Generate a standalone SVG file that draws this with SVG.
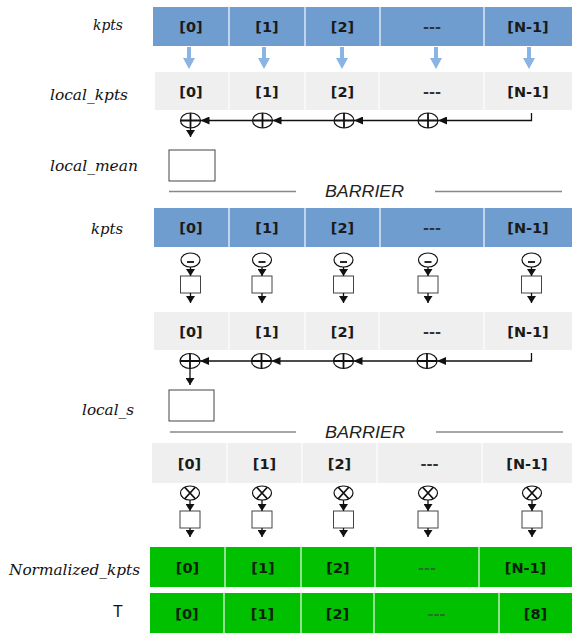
<svg xmlns="http://www.w3.org/2000/svg" width="572" height="633" viewBox="0 0 572 633">
<style>
.lbl{font-family:"DejaVu Serif","Liberation Serif",serif;font-style:italic;font-size:15.5px;fill:#111}
.cell{font-family:"DejaVu Sans","Liberation Sans",sans-serif;font-weight:bold;font-size:14.5px;fill:#1a1a1a;text-anchor:middle}
.gcell{fill:#0a200a}
.dash{fill:#333}
.gdash{fill:#2a6e2a}
.blue{fill:#709dcf}
.grey{fill:#efefef}
.green{fill:#00c000}
.sep{stroke:#ffffff;stroke-width:1.5;stroke-opacity:0.75}
.barrier{font-family:"Liberation Sans",Arial,sans-serif;font-style:italic;font-size:16px;fill:#222;text-anchor:middle}
.bline{stroke:#888;stroke-width:1.3}
.op{fill:#fff;stroke:#111;stroke-width:1.2}
.sym{stroke:#111;stroke-width:1.8;fill:none}
.box{fill:#fff;stroke:#444;stroke-width:1}
.conn{stroke:#111;stroke-width:1.3;fill:none}
.barr{fill:#8ab4e4}
</style>
<defs>
<marker id="ah" markerUnits="userSpaceOnUse" markerWidth="9" markerHeight="8" refX="9" refY="4" orient="auto">
<path d="M0,0 L9,4 L0,8 Z" fill="#111"/>
</marker>
<marker id="ahs" markerUnits="userSpaceOnUse" markerWidth="7" markerHeight="9" refX="7" refY="4.5" orient="auto">
<path d="M0,0 L7,4.5 L0,9 Z" fill="#111"/>
</marker>
<path id="barrow" d="M-2,0 H2 V11 H6 L0,22 L-6,11 H-2 Z"/>
</defs>

<!-- left labels -->
<g id="labels">
<text class="lbl" x="93" y="30" textLength="30" lengthAdjust="spacingAndGlyphs">kpts</text>
<text class="lbl" x="50" y="100" textLength="78" lengthAdjust="spacingAndGlyphs">local_kpts</text>
<text class="lbl" x="50" y="171" textLength="88" lengthAdjust="spacingAndGlyphs">local_mean</text>
<text class="lbl" x="91" y="234" textLength="32" lengthAdjust="spacingAndGlyphs">kpts</text>
<text class="lbl" x="82" y="415" textLength="52" lengthAdjust="spacingAndGlyphs">local_s</text>
<text class="lbl" x="9" y="575" textLength="131" lengthAdjust="spacingAndGlyphs">Normalized_kpts</text>
<text x="118" y="617" font-family="Liberation Sans,Arial,sans-serif" font-size="16" fill="#111" text-anchor="middle">T</text>
</g>

<!-- row 1: kpts -->
<g id="row-kpts-1">
<rect class="blue" x="153" y="7" width="419" height="39"/>
<line class="sep" x1="229" y1="7" x2="229" y2="46"/>
<line class="sep" x1="305" y1="7" x2="305" y2="46"/>
<line class="sep" x1="380" y1="7" x2="380" y2="46"/>
<line class="sep" x1="484" y1="7" x2="484" y2="46"/>
<text class="cell" x="191" y="32">[0]</text>
<text class="cell" x="267" y="32">[1]</text>
<text class="cell" x="342.5" y="32">[2]</text>
<text class="cell dash" x="432" y="32">---</text>
<text class="cell" x="528" y="32">[N-1]</text>
</g>

<!-- row 2: local_kpts -->
<g id="row-local-kpts-1">
<rect class="grey" x="155" y="72" width="417" height="38"/>
<line class="sep" x1="229" y1="72" x2="229" y2="110"/>
<line class="sep" x1="305" y1="72" x2="305" y2="110"/>
<line class="sep" x1="379" y1="72" x2="379" y2="110"/>
<line class="sep" x1="484" y1="72" x2="484" y2="110"/>
<text class="cell" x="191" y="96.5">[0]</text>
<text class="cell" x="267" y="96.5">[1]</text>
<text class="cell" x="342.5" y="96.5">[2]</text>
<text class="cell dash" x="432" y="96.5">---</text>
<text class="cell" x="528" y="96.5">[N-1]</text>
</g>

<!-- sum operators 1 -->
<g id="sum1-0"><ellipse class="op" cx="190.5" cy="120.5" rx="10" ry="7.5"/><path class="sym" d="M180.5,120.5 H200.5 M190.5,113 V128"/></g>
<g id="sum1-1"><ellipse class="op" cx="262.5" cy="120.5" rx="10" ry="7.5"/><path class="sym" d="M252.5,120.5 H272.5 M262.5,113 V128"/></g>
<g id="sum1-2"><ellipse class="op" cx="344" cy="120.5" rx="10" ry="7.5"/><path class="sym" d="M334,120.5 H354 M344,113 V128"/></g>
<g id="sum1-3"><ellipse class="op" cx="428" cy="120.5" rx="10" ry="7.5"/><path class="sym" d="M418,120.5 H438 M428,113 V128"/></g>

<g id="local-mean"><rect class="box" x="169" y="150" width="46" height="31"/></g>

<g id="barrier-1">
<line class="bline" x1="169" y1="191.5" x2="296" y2="191.5"/>
<line class="bline" x1="435" y1="191.5" x2="562" y2="191.5"/>
<text class="barrier" x="364.5" y="197" textLength="79" lengthAdjust="spacingAndGlyphs">BARRIER</text>
</g>

<!-- row 3: kpts -->
<g id="row-kpts-2">
<rect class="blue" x="154" y="208" width="418" height="39"/>
<line class="sep" x1="229" y1="208" x2="229" y2="247"/>
<line class="sep" x1="305" y1="208" x2="305" y2="247"/>
<line class="sep" x1="380" y1="208" x2="380" y2="247"/>
<line class="sep" x1="484" y1="208" x2="484" y2="247"/>
<text class="cell" x="191" y="233">[0]</text>
<text class="cell" x="267" y="233">[1]</text>
<text class="cell" x="342.5" y="233">[2]</text>
<text class="cell dash" x="432" y="233">---</text>
<text class="cell" x="528" y="233">[N-1]</text>
</g>

<!-- minus operators -->
<g id="sub-0"><ellipse class="op" cx="190.5" cy="260" rx="9.5" ry="7"/><path class="sym" d="M187,262 H194"/></g>
<g id="sub-1"><ellipse class="op" cx="262" cy="260" rx="9.5" ry="7"/><path class="sym" d="M258.5,262 H265.5"/></g>
<g id="sub-2"><ellipse class="op" cx="343.5" cy="260" rx="9.5" ry="7"/><path class="sym" d="M340,262 H347"/></g>
<g id="sub-3"><ellipse class="op" cx="428" cy="260" rx="9.5" ry="7"/><path class="sym" d="M424.5,262 H431.5"/></g>
<g id="sub-4"><ellipse class="op" cx="531.5" cy="260" rx="9.5" ry="7"/><path class="sym" d="M528,262 H535"/></g>

<g id="subbox-0"><rect class="box" x="180.5" y="276" width="20" height="17"/></g>
<g id="subbox-1"><rect class="box" x="252" y="276" width="20" height="17"/></g>
<g id="subbox-2"><rect class="box" x="333.5" y="276" width="20" height="17"/></g>
<g id="subbox-3"><rect class="box" x="418" y="276" width="20" height="17"/></g>
<g id="subbox-4"><rect class="box" x="521.5" y="276" width="20" height="17"/></g>

<!-- row 4 -->
<g id="row-local-kpts-2">
<rect class="grey" x="154" y="312" width="418" height="38"/>
<line class="sep" x1="229" y1="312" x2="229" y2="350"/>
<line class="sep" x1="305" y1="312" x2="305" y2="350"/>
<line class="sep" x1="379" y1="312" x2="379" y2="350"/>
<line class="sep" x1="484" y1="312" x2="484" y2="350"/>
<text class="cell" x="191" y="336.5">[0]</text>
<text class="cell" x="267" y="336.5">[1]</text>
<text class="cell" x="342.5" y="336.5">[2]</text>
<text class="cell dash" x="432" y="336.5">---</text>
<text class="cell" x="528" y="336.5">[N-1]</text>
</g>

<g id="sum2-0"><ellipse class="op" cx="190" cy="361" rx="10" ry="7.5"/><path class="sym" d="M180,361 H200 M190,353.5 V368.5"/></g>
<g id="sum2-1"><ellipse class="op" cx="261.5" cy="361" rx="10" ry="7.5"/><path class="sym" d="M251.5,361 H271.5 M261.5,353.5 V368.5"/></g>
<g id="sum2-2"><ellipse class="op" cx="343.5" cy="361" rx="10" ry="7.5"/><path class="sym" d="M333.5,361 H353.5 M343.5,353.5 V368.5"/></g>
<g id="sum2-3"><ellipse class="op" cx="427" cy="361" rx="10" ry="7.5"/><path class="sym" d="M417,361 H437 M427,353.5 V368.5"/></g>

<g id="local-s"><rect class="box" x="169" y="390" width="45" height="31"/></g>

<g id="barrier-2">
<line class="bline" x1="170" y1="432" x2="296" y2="432"/>
<line class="bline" x1="436" y1="432" x2="563" y2="432"/>
<text class="barrier" x="365" y="437.5" textLength="80" lengthAdjust="spacingAndGlyphs">BARRIER</text>
</g>

<!-- row 5 -->
<g id="row-local-kpts-3">
<rect class="grey" x="152" y="443" width="420" height="40"/>
<line class="sep" x1="227" y1="443" x2="227" y2="483"/>
<line class="sep" x1="302" y1="443" x2="302" y2="483"/>
<line class="sep" x1="377" y1="443" x2="377" y2="483"/>
<line class="sep" x1="482" y1="443" x2="482" y2="483"/>
<text class="cell" x="189.5" y="468.5">[0]</text>
<text class="cell" x="264.5" y="468.5">[1]</text>
<text class="cell" x="339.5" y="468.5">[2]</text>
<text class="cell dash" x="429.5" y="468.5">---</text>
<text class="cell" x="527" y="468.5">[N-1]</text>
</g>

<g id="mul-0"><ellipse class="op" cx="190" cy="493" rx="9.5" ry="7"/><path class="sym" d="M184.5,487 L195.5,499 M195.5,487 L184.5,499" stroke-width="1.5"/></g>
<g id="mul-1"><ellipse class="op" cx="262" cy="493" rx="9.5" ry="7"/><path class="sym" d="M256.5,487 L267.5,499 M267.5,487 L256.5,499" stroke-width="1.5"/></g>
<g id="mul-2"><ellipse class="op" cx="343.5" cy="493" rx="9.5" ry="7"/><path class="sym" d="M338,487 L349,499 M349,487 L338,499" stroke-width="1.5"/></g>
<g id="mul-3"><ellipse class="op" cx="428" cy="493" rx="9.5" ry="7"/><path class="sym" d="M422.5,487 L433.5,499 M433.5,487 L422.5,499" stroke-width="1.5"/></g>
<g id="mul-4"><ellipse class="op" cx="532" cy="493" rx="9.5" ry="7"/><path class="sym" d="M526.5,487 L537.5,499 M537.5,487 L526.5,499" stroke-width="1.5"/></g>

<g id="mulbox-0"><rect class="box" x="180" y="511" width="20" height="17"/></g>
<g id="mulbox-1"><rect class="box" x="252" y="511" width="20" height="17"/></g>
<g id="mulbox-2"><rect class="box" x="333.5" y="511" width="20" height="17"/></g>
<g id="mulbox-3"><rect class="box" x="418" y="511" width="20" height="17"/></g>
<g id="mulbox-4"><rect class="box" x="522" y="511" width="20" height="17"/></g>

<!-- row 6 -->
<g id="row-normalized">
<rect class="green" x="150" y="547" width="422" height="40"/>
<line class="sep" x1="225" y1="547" x2="225" y2="587"/>
<line class="sep" x1="301" y1="547" x2="301" y2="587"/>
<line class="sep" x1="375" y1="547" x2="375" y2="587"/>
<line class="sep" x1="479" y1="547" x2="479" y2="587"/>
<text class="cell gcell" x="187.5" y="572.5">[0]</text>
<text class="cell gcell" x="263" y="572.5">[1]</text>
<text class="cell gcell" x="338" y="572.5">[2]</text>
<text class="cell gdash" x="427" y="572.5">---</text>
<text class="cell gcell" x="525.5" y="572.5">[N-1]</text>
</g>

<!-- row 7 -->
<g id="row-T">
<rect class="green" x="150" y="593" width="422" height="40"/>
<line class="sep" x1="224" y1="593" x2="224" y2="633"/>
<line class="sep" x1="301" y1="593" x2="301" y2="633"/>
<line class="sep" x1="374" y1="593" x2="374" y2="633"/>
<line class="sep" x1="499" y1="593" x2="499" y2="633"/>
<text class="cell gcell" x="187" y="618.5">[0]</text>
<text class="cell gcell" x="262.5" y="618.5">[1]</text>
<text class="cell gcell" x="337.5" y="618.5">[2]</text>
<text class="cell gdash" x="436.5" y="618.5">---</text>
<text class="cell gcell" x="535.5" y="618.5">[8]</text>
</g>

<!-- connectors -->
<g id="connectors">
<use href="#barrow" class="barr" x="189" y="47"/>
<use href="#barrow" class="barr" x="264" y="47"/>
<use href="#barrow" class="barr" x="342" y="47"/>
<use href="#barrow" class="barr" x="436" y="47"/>
<use href="#barrow" class="barr" x="529" y="47"/>

<path class="conn" d="M531.5,113 V120.5 H438" marker-end="url(#ah)"/>
<path class="conn" d="M418,120.5 H354" marker-end="url(#ah)"/>
<path class="conn" d="M334,120.5 H272.5" marker-end="url(#ah)"/>
<path class="conn" d="M252.5,120.5 H200.5" marker-end="url(#ah)"/>
<path class="conn" d="M190.5,128 V137" marker-end="url(#ahs)"/>

<path class="conn" d="M190.5,267 V276" marker-end="url(#ahs)"/>
<path class="conn" d="M262,267 V276" marker-end="url(#ahs)"/>
<path class="conn" d="M343.5,267 V276" marker-end="url(#ahs)"/>
<path class="conn" d="M428,267 V276" marker-end="url(#ahs)"/>
<path class="conn" d="M531.5,267 V276" marker-end="url(#ahs)"/>
<path class="conn" d="M190.5,293 V303" marker-end="url(#ahs)"/>
<path class="conn" d="M262,293 V303" marker-end="url(#ahs)"/>
<path class="conn" d="M343.5,293 V303" marker-end="url(#ahs)"/>
<path class="conn" d="M428,293 V303" marker-end="url(#ahs)"/>
<path class="conn" d="M531.5,293 V303" marker-end="url(#ahs)"/>

<path class="conn" d="M531.5,353 V361 H437" marker-end="url(#ah)"/>
<path class="conn" d="M417,361 H353.5" marker-end="url(#ah)"/>
<path class="conn" d="M333.5,361 H271.5" marker-end="url(#ah)"/>
<path class="conn" d="M251.5,361 H200" marker-end="url(#ah)"/>
<path class="conn" d="M190,368.5 V385" marker-end="url(#ahs)"/>

<path class="conn" d="M190,500 V511" marker-end="url(#ahs)"/>
<path class="conn" d="M262,500 V511" marker-end="url(#ahs)"/>
<path class="conn" d="M343.5,500 V511" marker-end="url(#ahs)"/>
<path class="conn" d="M428,500 V511" marker-end="url(#ahs)"/>
<path class="conn" d="M532,500 V511" marker-end="url(#ahs)"/>
<path class="conn" d="M190,528 V537" marker-end="url(#ahs)"/>
<path class="conn" d="M262,528 V537" marker-end="url(#ahs)"/>
<path class="conn" d="M343.5,528 V537" marker-end="url(#ahs)"/>
<path class="conn" d="M428,528 V537" marker-end="url(#ahs)"/>
<path class="conn" d="M532,528 V537" marker-end="url(#ahs)"/>
</g>
</svg>
